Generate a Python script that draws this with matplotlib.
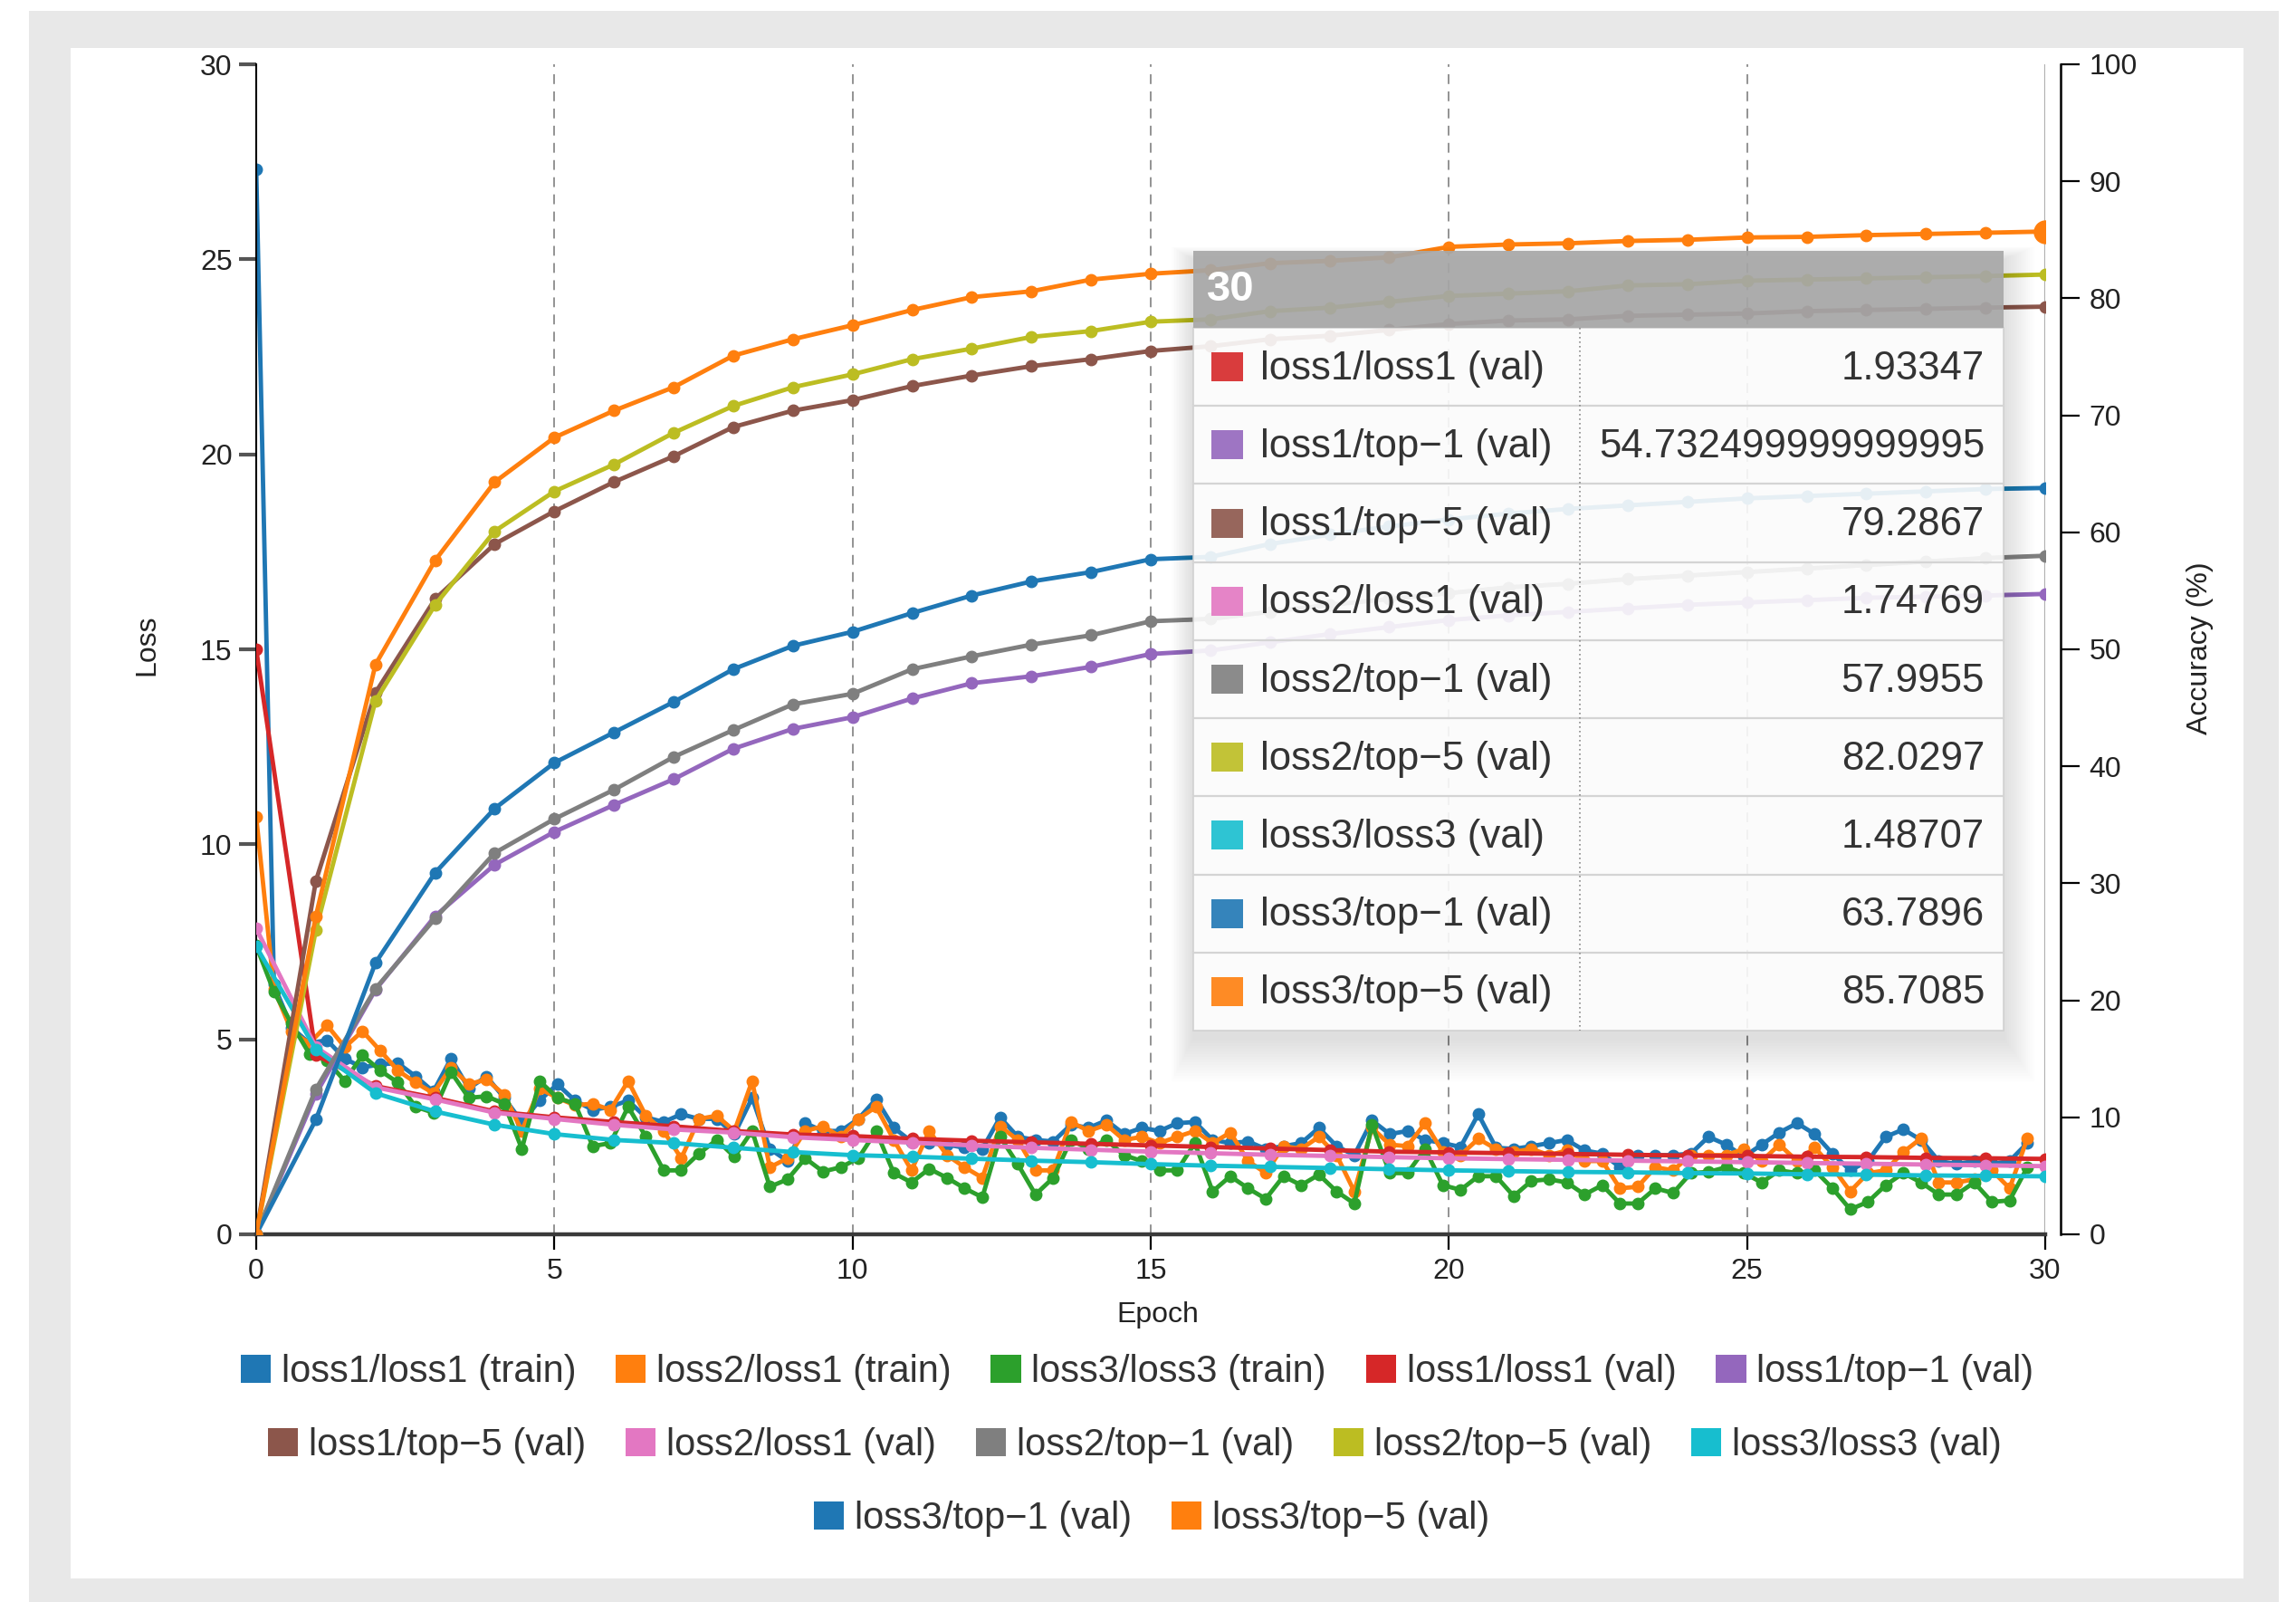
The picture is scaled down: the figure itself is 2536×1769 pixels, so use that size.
import numpy as np
import matplotlib
matplotlib.use("Agg")
import matplotlib.pyplot as plt
from matplotlib.patches import Rectangle, Patch
from matplotlib.lines import Line2D

W, H, DPI = 2536, 1769, 100
plt.rcParams['font.family'] = ['Liberation Sans', 'DejaVu Sans']

# ---------------- data ----------------
val_epochs = list(range(31))
train_epochs = np.arange(101) * 0.297   # training loss logged ~3.4 times per epoch

train_loss1_loss1 = [
    27.3, 6.4, 5.3, 4.9, 4.98, 4.5, 4.28, 4.36, 4.39, 4.05,
    3.66, 4.51, 3.74, 4.05, 3.50, 2.88, 3.43, 3.85, 3.43, 3.19,
    3.27, 3.43, 3.00, 2.88, 3.08, 2.96, 2.96, 2.57, 3.50, 2.19,
    1.88, 2.85, 2.65, 2.65, 2.96, 3.47, 2.73, 2.38, 2.34, 2.30,
    2.22, 2.19, 3.00, 2.50, 2.42, 2.38, 2.81, 2.73, 2.92, 2.57,
    2.73, 2.65, 2.85, 2.88, 2.42, 2.34, 2.38, 2.19, 2.26, 2.34,
    2.73, 2.26, 2.03, 2.92, 2.57, 2.65, 2.42, 2.34, 2.24, 3.08,
    2.22, 2.19, 2.26, 2.34, 2.42, 2.15, 2.07, 1.72, 2.03, 2.03,
    2.03, 2.07, 2.50, 2.30, 1.99, 2.30, 2.61, 2.85, 2.57, 2.07,
    1.64, 1.88, 2.50, 2.69, 2.42, 1.88, 1.80, 1.88, 1.80, 1.88,
    2.34]
train_loss2_loss1 = [
    10.7, 6.3, 5.2, 4.9, 5.36, 4.8, 5.21, 4.71, 4.20, 3.89,
    3.62, 4.28, 3.85, 3.97, 3.58, 2.65, 3.74, 3.50, 3.31, 3.35,
    3.19, 3.93, 3.04, 2.65, 1.95, 2.96, 3.04, 2.65, 3.93, 1.72,
    1.95, 2.65, 2.77, 2.50, 2.96, 3.27, 2.42, 1.64, 2.65, 2.03,
    1.72, 1.45, 2.77, 2.42, 1.64, 1.64, 2.88, 2.65, 2.81, 2.42,
    2.50, 2.34, 2.50, 2.65, 2.34, 2.61, 1.88, 1.57, 2.26, 2.19,
    2.50, 2.03, 1.10, 2.73, 2.30, 2.26, 2.85, 2.11, 2.03, 2.45,
    2.19, 2.11, 2.19, 2.03, 2.15, 1.88, 1.88, 1.18, 1.22, 1.72,
    1.64, 2.03, 2.03, 2.03, 2.19, 1.88, 2.30, 1.88, 2.22, 1.72,
    1.10, 1.57, 1.64, 2.11, 2.46, 1.33, 1.33, 1.41, 1.64, 1.18,
    2.46]
train_loss3_loss3 = [
    7.4, 6.22, 5.4, 4.63, 4.45, 3.93, 4.59, 4.20, 3.89, 3.27,
    3.12, 4.16, 3.50, 3.54, 3.35, 2.19, 3.93, 3.50, 3.35, 2.26,
    2.34, 3.27, 2.50, 1.64, 1.64, 2.07, 2.42, 1.99, 2.65, 1.22,
    1.41, 1.95, 1.61, 1.72, 1.95, 2.65, 1.57, 1.33, 1.68, 1.45,
    1.18, 0.95, 2.50, 1.80, 1.02, 1.45, 2.42, 2.19, 2.42, 2.03,
    1.88, 1.64, 1.64, 2.34, 1.10, 1.49, 1.18, 0.91, 1.49, 1.26,
    1.53, 1.10, 0.79, 2.81, 1.57, 1.57, 2.19, 1.26, 1.14, 1.49,
    1.49, 0.98, 1.37, 1.41, 1.33, 1.02, 1.26, 0.79, 0.79, 1.18,
    1.06, 1.57, 1.60, 1.72, 1.57, 1.33, 1.64, 1.57, 1.64, 1.18,
    0.64, 0.83, 1.26, 1.57, 1.33, 1.02, 1.02, 1.33, 0.83, 0.87,
    1.72]

val_loss1_loss1 = [15.0, 4.6, 3.8, 3.5, 3.15, 3.0, 2.88, 2.77, 2.65, 2.56,
                   2.52, 2.45, 2.40, 2.36, 2.32, 2.28, 2.24, 2.20, 2.16, 2.12,
                   2.10, 2.08, 2.06, 2.04, 2.02, 2.01, 1.99, 1.98, 1.96, 1.95,
                   1.93347]
val_loss2_loss1 = [7.84, 4.8, 3.77, 3.46, 3.12, 2.96, 2.81, 2.69, 2.61, 2.49,
                   2.42, 2.35, 2.28, 2.22, 2.17, 2.12, 2.08, 2.04, 2.01, 1.98,
                   1.95, 1.93, 1.91, 1.89, 1.87, 1.85, 1.83, 1.81, 1.79, 1.77,
                   1.74769]
val_loss3_loss3 = [7.38, 4.74, 3.62, 3.15, 2.81, 2.57, 2.42, 2.34, 2.22, 2.11,
                   2.03, 1.99, 1.94, 1.89, 1.85, 1.80, 1.76, 1.73, 1.70, 1.67,
                   1.64, 1.62, 1.60, 1.59, 1.57, 1.56, 1.54, 1.53, 1.51, 1.50,
                   1.48707]

val_loss1_top1 = [0, 12.0, 20.9, 27.2, 31.6, 34.4, 36.7, 38.9, 41.5, 43.2,
                  44.2, 45.8, 47.1, 47.7, 48.5, 49.6, 49.9, 50.6, 51.3, 51.9,
                  52.5, 52.9, 53.2, 53.5, 53.8, 54.0, 54.2, 54.4, 54.5, 54.6,
                  54.732499999999995]
val_loss1_top5 = [0, 30.2, 46.3, 54.3, 59.0, 61.8, 64.3, 66.5, 69.0, 70.4,
                  71.3, 72.5, 73.4, 74.2, 74.8, 75.5, 75.9, 76.5, 76.8, 77.3,
                  77.8, 78.1, 78.2, 78.5, 78.6, 78.7, 78.9, 79.0, 79.1, 79.2,
                  79.2867]
val_loss2_top1 = [0, 12.4, 21.0, 27.0, 32.6, 35.5, 38.0, 40.8, 43.1, 45.3,
                  46.2, 48.3, 49.4, 50.4, 51.2, 52.4, 52.6, 53.2, 53.8, 54.3,
                  54.8, 55.3, 55.6, 56.0, 56.3, 56.6, 56.9, 57.2, 57.5, 57.8,
                  57.9955]
val_loss2_top5 = [0, 26.0, 45.6, 53.8, 60.1, 63.5, 65.8, 68.5, 70.8, 72.4,
                  73.5, 74.8, 75.7, 76.7, 77.2, 78.0, 78.2, 78.9, 79.2, 79.7,
                  80.2, 80.4, 80.6, 81.1, 81.2, 81.5, 81.6, 81.7, 81.8, 81.9,
                  82.0297]
val_loss3_top1 = [0, 9.8, 23.2, 30.9, 36.4, 40.3, 42.9, 45.5, 48.3, 50.3,
                  51.5, 53.1, 54.6, 55.8, 56.6, 57.7, 57.9, 59.0, 59.8, 60.5,
                  61.1, 61.6, 62.0, 62.3, 62.6, 62.9, 63.1, 63.3, 63.5, 63.7,
                  63.7896]
val_loss3_top5 = [0, 27.2, 48.7, 57.6, 64.3, 68.1, 70.4, 72.4, 75.1, 76.5,
                  77.7, 79.0, 80.1, 80.6, 81.6, 82.1, 82.4, 83.0, 83.2, 83.5,
                  84.4, 84.6, 84.7, 84.9, 85.0, 85.2, 85.25, 85.4, 85.5, 85.6,
                  85.7085]

labels = ["loss1/loss1 (train)", "loss2/loss1 (train)", "loss3/loss3 (train)",
          "loss1/loss1 (val)", "loss1/top\u22121 (val)", "loss1/top\u22125 (val)",
          "loss2/loss1 (val)", "loss2/top\u22121 (val)", "loss2/top\u22125 (val)",
          "loss3/loss3 (val)", "loss3/top\u22121 (val)", "loss3/top\u22125 (val)"]
colors = ['#1f77b4', '#ff7f0e', '#2ca02c', '#d62728', '#9467bd', '#8c564b',
          '#e377c2', '#7f7f7f', '#bcbd22', '#17becf', '#1f77b4', '#ff7f0e']

hover_epoch = 30

# ---------------- helpers ----------------
def fx(px):
    return px / W


def fy(py):
    return 1 - py / H


# ---------------- figure ----------------
fig = plt.figure(figsize=(W / DPI, H / DPI), dpi=DPI)
fig.patch.set_facecolor('white')
fig.add_artist(Rectangle((fx(32), fy(H)), fx(2517) - fx(32), fy(12) - fy(H),
                         transform=fig.transFigure, facecolor='#e8e8e8',
                         edgecolor='none', zorder=-20))
fig.add_artist(Rectangle((fx(78), fy(1743)), fx(2478) - fx(78), fy(53) - fy(1743),
                         transform=fig.transFigure, facecolor='white',
                         edgecolor='none', zorder=-19))

x0, x1, y_top, y_bot = 283, 2259, 71, 1363
ax = fig.add_axes([fx(x0), fy(y_bot), fx(x1) - fx(x0), fy(y_top) - fy(y_bot)])
ax2 = ax.twinx()
for a in (ax, ax2):
    a.patch.set_visible(False)

ax.set_xlim(0, 30)
ax.set_ylim(0, 30)
ax2.set_ylim(0, 100)

# spines
ax.spines['top'].set_visible(False)
ax.spines['right'].set_visible(False)
ax.spines['left'].set_linewidth(1.5)
ax.spines['left'].set_color('black')
ax.spines['bottom'].set_linewidth(3.2)
ax.spines['bottom'].set_color('#3a3a3a')
for s in ('top', 'left', 'bottom'):
    ax2.spines[s].set_visible(False)
ax2.spines['right'].set_position(('outward', 12))
ax2.spines['right'].set_linewidth(1.8)
ax2.spines['right'].set_color('black')

tick_font = 23
ax.set_xticks(range(0, 31, 5))
ax.set_yticks(range(0, 31, 5))
ax2.set_yticks(range(0, 101, 10))
ax.tick_params(axis='x', length=12, width=1.6, color='black', pad=7,
               labelsize=tick_font, labelcolor='#222222')
ax.tick_params(axis='y', length=14, width=3.0, color='#555555', pad=5,
               labelsize=tick_font, labelcolor='#222222')
ax2.tick_params(axis='y', length=15, width=1.6, color='black', pad=8,
                labelsize=tick_font, labelcolor='#222222')

# vertical dashed grid
for gx in range(5, 30, 5):
    ax.axvline(gx, color='#8a8a8a', lw=1.3, ls=(0, (6, 4.5)), zorder=0.5)
# hover line
ax.axvline(hover_epoch, color='#b0b0b0', lw=1.6, zorder=0.6)

lw, ms = 3.5, 9
loss_train = [train_loss1_loss1, train_loss2_loss1, train_loss3_loss3]
for i, ys in enumerate(loss_train):
    ax.plot(train_epochs, ys, color=colors[i], lw=lw, marker='o', ms=ms, zorder=2)

series_val = [
    (ax, val_loss1_loss1), (ax2, val_loss1_top1), (ax2, val_loss1_top5),
    (ax, val_loss2_loss1), (ax2, val_loss2_top1), (ax2, val_loss2_top5),
    (ax, val_loss3_loss3), (ax2, val_loss3_top1), (ax2, val_loss3_top5),
]
for j, (a, ys) in enumerate(series_val):
    a.plot(val_epochs, ys, color=colors[3 + j], lw=lw, marker='o', ms=ms, zorder=3)
# highlighted point under the cursor
ax2.plot([hover_epoch], [val_loss3_top5[-1]], marker='o', ms=18,
         color=colors[11], zorder=4)

# axis titles
fig.text(fx(162), fy(712), 'Loss', rotation=90, ha='center', va='center',
         fontsize=tick_font, color='#222222')
fig.text(fx(1279), fy(1452), 'Epoch', ha='center', va='center',
         fontsize=tick_font, color='#222222')
fig.text(fx(2430), fy(716), 'Accuracy (%)', rotation=90, ha='center', va='center',
         fontsize=tick_font, color='#222222')

# ---------------- legend (three centred rows) ----------------
handles = [Patch(facecolor=c, edgecolor='none') for c in colors]
rows = [(range(0, 5), 0.4953, 1515), (range(5, 10), 0.4942, 1596),
        (range(10, 12), 0.5015, 1677)]
for idx, cx, cy in rows:
    idx = list(idx)
    fig.legend([handles[i] for i in idx], [labels[i] for i in idx],
               loc='center', bbox_to_anchor=(cx, fy(cy)), ncol=len(idx),
               frameon=False, fontsize=30, handlelength=0.8, handleheight=0.8,
               handletextpad=0.28, columnspacing=1.05, borderpad=0,
               borderaxespad=0, labelcolor='#333333')

# ---------------- hover tooltip ----------------
tl, tr, tt, th, tb = 1318, 2213, 277, 362, 1138
# soft drop shadow
for i in range(1, 17):
    g = i * 3
    fig.add_artist(Rectangle((fx(tl - g * 0.5), fy(tb + 8 + g)),
                             fx(tr + g * 0.7) - fx(tl - g * 0.5),
                             fy(tt + 10 - g * 0.3) - fy(tb + 8 + g),
                             transform=fig.transFigure, facecolor='black',
                             edgecolor='none', alpha=0.009, zorder=8))
fig.add_artist(Rectangle((fx(tl), fy(tb)), fx(tr) - fx(tl), fy(th) - fy(tb),
                         transform=fig.transFigure, facecolor='white',
                         edgecolor='#cfcfcf', lw=1.2, alpha=0.9, zorder=9))
fig.add_artist(Rectangle((fx(tl), fy(th)), fx(tr) - fx(tl), fy(tt) - fy(th),
                         transform=fig.transFigure, facecolor='#a8a8a8',
                         edgecolor='none', alpha=0.92, zorder=9.5))
fig.text(fx(1333), fy((tt + th) / 2 + 1), str(hover_epoch), ha='left', va='center',
         fontsize=34, fontweight='bold', color='white', zorder=10)

tip_rows = [
    (labels[3], colors[3], val_loss1_loss1[-1]),
    (labels[4], colors[4], val_loss1_top1[-1]),
    (labels[5], colors[5], val_loss1_top5[-1]),
    (labels[6], colors[6], val_loss2_loss1[-1]),
    (labels[7], colors[7], val_loss2_top1[-1]),
    (labels[8], colors[8], val_loss2_top5[-1]),
    (labels[9], colors[9], val_loss3_loss3[-1]),
    (labels[10], colors[10], val_loss3_top1[-1]),
    (labels[11], colors[11], val_loss3_top5[-1]),
]
row_h = (tb - th) / len(tip_rows)
col_x = 1745
for r, (lab, col, val) in enumerate(tip_rows):
    top = th + r * row_h
    cy = top + row_h / 2
    if r > 0:
        fig.add_artist(Line2D([fx(tl), fx(tr)], [fy(top), fy(top)],
                              transform=fig.transFigure, color='#d4d4d4',
                              lw=1.6, zorder=10))
    fig.add_artist(Rectangle((fx(1338), fy(cy + 16)), fx(1373) - fx(1338),
                             fy(cy - 16) - fy(cy + 16), transform=fig.transFigure,
                             facecolor=col, edgecolor='none', alpha=0.9, zorder=10))
    fig.text(fx(1392), fy(cy + 2), lab, ha='left', va='center', fontsize=31.5,
             color='#333333', zorder=10)
    fig.text(fx(2192), fy(cy + 2), str(val), ha='right', va='center', fontsize=31.5,
             color='#333333', zorder=10)
fig.add_artist(Line2D([fx(col_x), fx(col_x)], [fy(th), fy(tb)],
                      transform=fig.transFigure, color='#8a8a8a', lw=1.2,
                      ls=(0, (1, 2)), zorder=10))

fig.savefig('out.png', dpi=DPI)
